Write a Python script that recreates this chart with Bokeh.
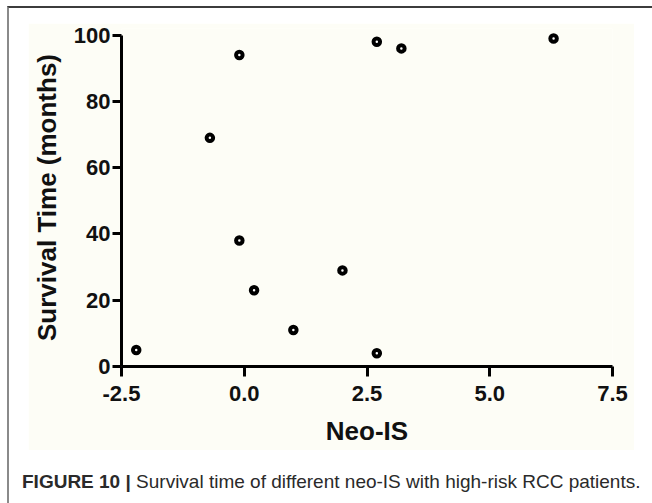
from bokeh.plotting import figure
from bokeh.models import FixedTicker, Range1d, NumeralTickFormatter, Div
from bokeh.layouts import column
from bokeh.embed import file_html
from bokeh.resources import INLINE

# ---- data ----
neo_is = [-2.2, -0.7, -0.1, -0.1, 0.2, 1.0, 2.0, 2.7, 2.7, 3.2, 6.3]
survival = [5, 69, 94, 38, 23, 11, 29, 4, 98, 96, 99]
x_ticks = [-2.5, 0.0, 2.5, 5.0, 7.5]
y_ticks = [0, 20, 40, 60, 80, 100]
x_label = "Neo-IS"
y_label = "Survival Time (months)"
caption_bold = "FIGURE 10 |"
caption_text = "Survival time of different neo-IS with high-risk RCC patients."

FONT = "Liberation Sans"
BG = "#fdfdf6"

p = figure(width=606, height=427, output_backend="svg", toolbar_location=None,
           x_range=Range1d(-2.5, 7.5), y_range=Range1d(0, 102),
           min_border_left=91, min_border_right=22, min_border_top=5,
           min_border_bottom=84, margin=(15, 0, 0, 19))
p.background_fill_color = BG
p.border_fill_color = BG
p.outline_line_color = None
p.grid.visible = False

p.scatter(neo_is, survival, size=6.5, line_width=4, line_color="black",
          fill_color="white")

for ax in (p.xaxis, p.yaxis):
    ax.axis_line_width = 3
    ax.axis_line_color = "black"
    ax.major_tick_line_width = 3
    ax.major_tick_line_color = "black"
    ax.minor_tick_line_color = None
    ax.major_tick_in = 0
    ax.major_label_text_font = FONT
    ax.major_label_text_font_style = "bold"
    ax.major_label_text_font_size = "22px"
    ax.major_label_text_color = "#111111"
    ax.axis_label_text_font = FONT
    ax.axis_label_text_font_style = "bold"
    ax.axis_label_text_font_size = "26px"
    ax.axis_label_text_color = "#111111"

p.xaxis.bounds = (-2.5, 7.5)
p.yaxis.bounds = (0, 100)
p.xaxis.ticker = FixedTicker(ticks=x_ticks)
p.yaxis.ticker = FixedTicker(ticks=y_ticks)
p.xaxis.formatter = NumeralTickFormatter(format="0.0")
p.xaxis.major_tick_out = 10
p.yaxis.major_tick_out = 9
p.xaxis.major_label_standoff = 9
p.yaxis.major_label_standoff = 2
p.xaxis.axis_label = x_label
p.yaxis.axis_label = y_label
p.xaxis.axis_label_standoff = 12
p.yaxis.axis_label_standoff = 9

caption = Div(
    text=f"<b>{caption_bold}</b> {caption_text}",
    width=630, height=24, margin=(18, 0, 0, 13),
    styles={"font-family": FONT, "font-size": "19px", "color": "#2a2a2a",
            "white-space": "nowrap"})

layout = column(p, caption, width=645, height=497, margin=(6, 0, 0, 7),
                styles={"border-top": "2px solid #3c3c3c",
                        "border-left": "2px solid #8a8a8a",
                        "background-color": "white"})

open("out.html", "w").write(file_html(layout, INLINE))
